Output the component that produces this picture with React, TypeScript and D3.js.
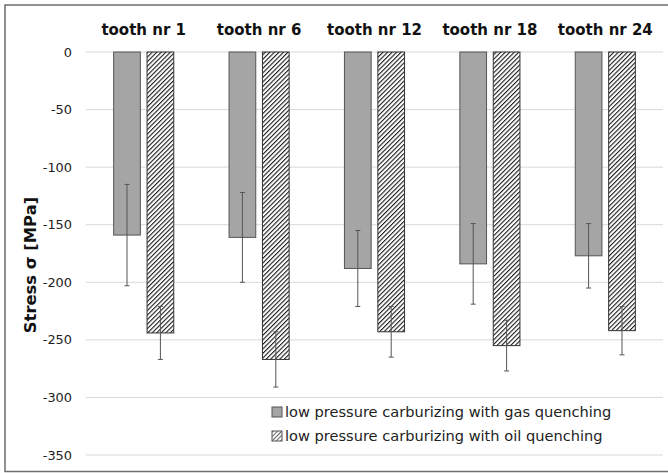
import React from "react";
import * as d3 from "d3";

const categories = ["tooth nr 1", "tooth nr 6", "tooth nr 12", "tooth nr 18", "tooth nr 24"];
const gasValues = [-159, -161, -188, -184, -177];
const gasErrors = [44, 39, 33, 35, 28];
const oilValues = [-244, -267, -243, -255, -242];
const oilErrors = [23, 24, 22, 22, 21];
const yTicks = [0, -50, -100, -150, -200, -250, -300, -350];
const seriesNames = [
  "low pressure carburizing with gas quenching",
  "low pressure carburizing with oil quenching",
];

const W = 668;
const H = 473;
const plot = { left: 86, right: 663, top: 52, bottom: 455 };
const FONT = "'DejaVu Sans', Verdana, sans-serif";

export default function App() {
  const x = d3.scaleBand<string>().domain(categories).range([plot.left, plot.right]).paddingInner(0).paddingOuter(0);
  const y = d3.scaleLinear().domain([0, -350]).range([plot.top, plot.bottom]);
  const barW = 26.7;
  const gap = 6.7;

  const series = [
    { values: gasValues, errors: gasErrors, fill: "#a5a5a5", stroke: "#555", offset: -gap / 2 - barW },
    { values: oilValues, errors: oilErrors, fill: "url(#hatch)", stroke: "#333", offset: gap / 2 },
  ];

  return (
    <svg width={W} height={H} style={{ position: "absolute", left: 0, top: 0, background: "#fff" }}>
      <defs>
        <pattern id="hatch" patternUnits="userSpaceOnUse" width="3.2" height="3.2" patternTransform="rotate(45)">
          <rect width="3.2" height="3.2" fill="#fff" />
          <line x1="0" y1="0" x2="0" y2="3.2" stroke="#1a1a1a" strokeWidth="2.2" />
        </pattern>
        <pattern id="hatchSmall" patternUnits="userSpaceOnUse" width="3" height="3" patternTransform="rotate(45)">
          <rect width="3" height="3" fill="#fff" />
          <line x1="0" y1="0" x2="0" y2="3" stroke="#222" strokeWidth="1.4" />
        </pattern>
      </defs>
      <rect x={5} y={5} width={W} height={466.5} fill="#fff" stroke="#6e6e6e" strokeWidth={1.5} />
      {yTicks.map((t) => (
        <g key={t}>
          <line x1={plot.left} x2={plot.right} y1={y(t)} y2={y(t)} stroke="#d9d9d9" strokeWidth={1} />
          <text x={72} y={y(t)} dy="0.35em" textAnchor="end" fontFamily={FONT} fontSize={12.9} fill="#222">
            {t}
          </text>
        </g>
      ))}
      {categories.map((c) => (
        <text key={c} x={(x(c) as number) + x.bandwidth() / 2} y={30} dy="0.35em" textAnchor="middle"
          fontFamily={FONT} fontWeight="bold" fontSize={15} fill="#111">
          {c}
        </text>
      ))}
      {series.map((s, si) =>
        categories.map((c, i) => {
          const cx = (x(c) as number) + x.bandwidth() / 2 + s.offset;
          const v = s.values[i];
          const e = s.errors[i];
          const mid = cx + barW / 2;
          return (
            <g key={si + "-" + c}>
              <rect x={cx} y={y(0)} width={barW} height={y(v) - y(0)} fill={s.fill} stroke={s.stroke} strokeWidth={1} />
              <line x1={mid} x2={mid} y1={y(v + e)} y2={y(v - e)} stroke="#555" strokeWidth={1} />
              <line x1={mid - 2.5} x2={mid + 2.5} y1={y(v + e)} y2={y(v + e)} stroke="#555" strokeWidth={1} />
              <line x1={mid - 2.5} x2={mid + 2.5} y1={y(v - e)} y2={y(v - e)} stroke="#555" strokeWidth={1} />
            </g>
          );
        })
      )}
      <text transform={`translate(30,265) rotate(-90)`} textAnchor="middle" dy="0.35em"
        fontFamily={FONT} fontWeight="bold" fontSize={16.4} fill="#111">
        Stress σ [MPa]
      </text>
      {seriesNames.map((n, i) => (
        <g key={n} transform={`translate(272,${412 + i * 24})`}>
          <rect x={0} y={-5} width={10} height={10} fill={i === 0 ? "#a5a5a5" : "url(#hatchSmall)"} stroke="#555" strokeWidth={1} />
          <text x={13} y={0} dy="0.35em" fontFamily={FONT} fontSize={14.6} fill="#222">
            {n}
          </text>
        </g>
      ))}
    </svg>
  );
}
